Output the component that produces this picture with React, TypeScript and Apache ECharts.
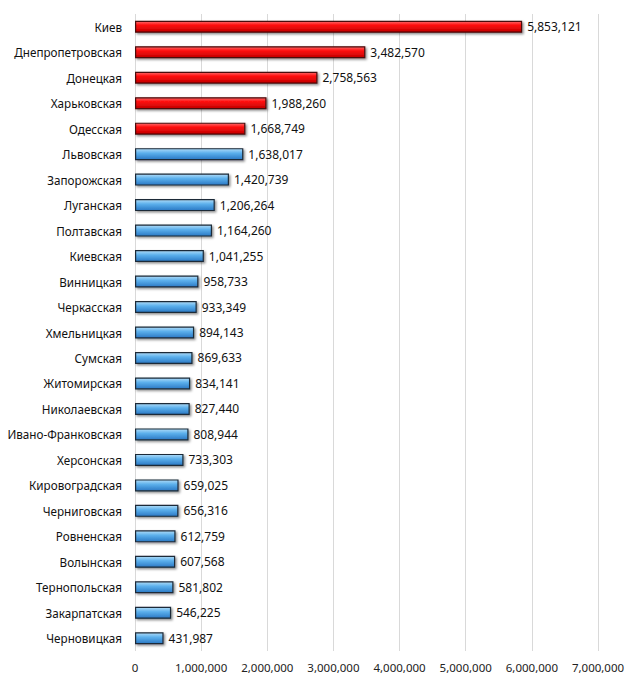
import React, { useEffect, useRef } from "react";
import * as echarts from "echarts";

const categories = [
  "Киев", "Днепропетровская", "Донецкая", "Харьковская", "Одесская",
  "Львовская", "Запорожская", "Луганская", "Полтавская", "Киевская",
  "Винницкая", "Черкасская", "Хмельницкая", "Сумская", "Житомирская",
  "Николаевская", "Ивано-Франковская", "Херсонская", "Кировоградская", "Черниговская",
  "Ровненская", "Волынская", "Тернопольская", "Закарпатская", "Черновицкая",
];

const values = [
  5853121, 3482570, 2758563, 1988260, 1668749,
  1638017, 1420739, 1206264, 1164260, 1041255,
  958733, 933349, 894143, 869633, 834141,
  827440, 808944, 733303, 659025, 656316,
  612759, 607568, 581802, 546225, 431987,
];

const highlightCount = 5;

const fmt = (v: number) => v.toLocaleString("en-US");

export default function App() {
  const ref = useRef<HTMLDivElement>(null);
  useEffect(() => {
    if (!ref.current) return;
    const chart = echarts.init(ref.current, null, { renderer: "svg" });
    const red = new echarts.graphic.LinearGradient(0, 0, 0, 1, [
      { offset: 0, color: "#ff6a6a" },
      { offset: 0.35, color: "#ff1010" },
      { offset: 1, color: "#c00000" },
    ]);
    const blue = new echarts.graphic.LinearGradient(0, 0, 0, 1, [
      { offset: 0, color: "#b0dcf8" },
      { offset: 0.4, color: "#5cb0ec" },
      { offset: 1, color: "#2a78c4" },
    ]);
    chart.setOption({
      animation: false,
      grid: { left: 135, right: 42, top: 14, bottom: 34, containLabel: false },
      xAxis: {
        type: "value",
        min: 0,
        max: 7000000,
        interval: 1000000,
        axisLine: { show: false },
        axisTick: { show: false },
        splitLine: { show: true, lineStyle: { color: "#d9d9d9", width: 1 } },
        axisLabel: {
          formatter: (v: number) => fmt(v),
          color: "#222",
          fontSize: 11.5,
          fontFamily: "Noto Sans",
          margin: 10,
        },
      },
      yAxis: {
        type: "category",
        data: categories,
        inverse: true,
        axisLine: { show: false },
        axisTick: { show: false },
        axisLabel: {
          color: "#111",
          fontSize: 11.7,
          fontFamily: "Noto Sans",
          margin: 13,
        },
      },
      series: [
        {
          type: "bar",
          barWidth: 12,
          data: values.map((v, i) => ({
            value: v,
            itemStyle: {
              color: i < highlightCount ? red : blue,
              borderColor: i < highlightCount ? "#4a0a0a" : "#1c2a38",
              borderWidth: 1.2,
              shadowColor: "rgba(0,0,0,0.45)",
              shadowBlur: 2,
              shadowOffsetX: 1.5,
              shadowOffsetY: 1.5,
            },
          })),
          label: {
            show: true,
            position: "right",
            distance: 5,
            formatter: (p: any) => fmt(p.value),
            color: "#111",
            fontSize: 12,
            fontFamily: "Noto Sans",
          },
        },
      ],
    });
    return () => chart.dispose();
  }, []);
  return <div ref={ref} style={{ position: "absolute", left: 0, top: 0, width: 640, height: 685 }} />;
}
